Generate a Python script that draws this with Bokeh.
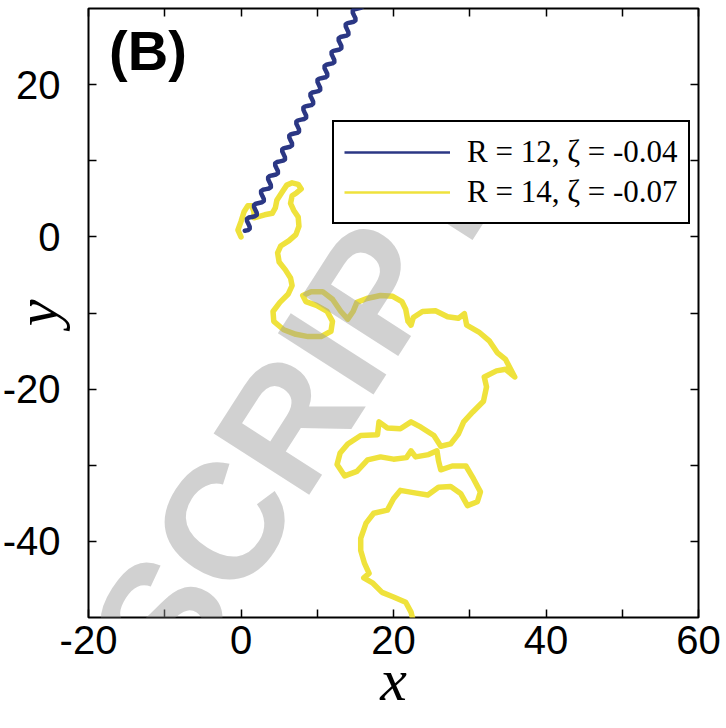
from bokeh.plotting import figure
from bokeh.models import Range1d, LinearAxis, FixedTicker, Label, Legend, LegendItem
from bokeh.embed import file_html
from bokeh.resources import INLINE

# ---------------- data ----------------
blue_x = [0.50, 0.91, 1.14, 1.14, 0.96, 0.79, 0.78, 1.02, 1.42, 1.83, 2.07, 2.06, 1.89, 1.71,
          1.71, 1.94, 2.35, 2.76, 2.99, 2.99, 2.81, 2.64, 2.63, 2.87, 3.27, 3.68, 3.92, 3.91,
          3.74, 3.56, 3.56, 3.79, 4.20, 4.60, 4.84, 4.84, 4.66, 4.49, 4.48, 4.72, 5.12, 5.53,
          5.77, 5.76, 5.59, 5.41, 5.41, 5.64, 6.05, 6.45, 6.69, 6.69, 6.51, 6.34, 6.33, 6.57,
          6.97, 7.38, 7.61, 7.61, 7.44, 7.26, 7.26, 7.49, 7.90, 8.30, 8.54, 8.54, 8.36, 8.19,
          8.18, 8.42, 8.82, 9.23, 9.46, 9.46, 9.29, 9.11, 9.11, 9.34, 9.75, 10.15, 10.39, 10.38,
          10.21, 10.04, 10.03, 10.27, 10.67, 11.08, 11.31, 11.31, 11.14, 10.96, 10.96, 11.19,
          11.60, 12.00, 12.24, 12.23, 12.06, 11.89, 11.88, 12.12, 12.52, 12.93, 13.16, 13.16,
          12.99, 12.81, 12.81, 13.04, 13.45, 13.85, 14.09, 14.08, 13.91, 13.74, 13.73, 13.97,
          14.37, 14.78, 15.01, 15.01, 14.83, 14.66, 14.66, 14.89, 15.30, 15.70, 15.94]
blue_y = [0.80, 0.89, 1.06, 1.34, 1.71, 2.08, 2.37, 2.54, 2.62, 2.71, 2.88, 3.17, 3.54, 3.91,
          4.19, 4.36, 4.45, 4.54, 4.71, 4.99, 5.36, 5.73, 6.02, 6.19, 6.27, 6.36, 6.53, 6.82,
          7.19, 7.56, 7.84, 8.01, 8.10, 8.19, 8.36, 8.64, 9.01, 9.38, 9.67, 9.84, 9.92, 10.01,
          10.18, 10.47, 10.84, 11.20, 11.49, 11.66, 11.75, 11.84, 12.01, 12.29, 12.66, 13.03,
          13.32, 13.49, 13.57, 13.66, 13.83, 14.12, 14.49, 14.85, 15.14, 15.31, 15.40, 15.49,
          15.66, 15.94, 16.31, 16.68, 16.97, 17.14, 17.22, 17.31, 17.48, 17.77, 18.14, 18.50,
          18.79, 18.96, 19.05, 19.14, 19.30, 19.59, 19.96, 20.33, 20.62, 20.79, 20.87, 20.96,
          21.13, 21.42, 21.79, 22.15, 22.44, 22.61, 22.70, 22.79, 22.95, 23.24, 23.61, 23.98,
          24.27, 24.43, 24.52, 24.61, 24.78, 25.07, 25.44, 25.80, 26.09, 26.26, 26.35, 26.44,
          26.60, 26.89, 27.26, 27.63, 27.92, 28.08, 28.17, 28.26, 28.43, 28.72, 29.08, 29.45,
          29.74, 29.91, 30.00, 30.09, 30.25]

yellow_x = [0.0, -0.4, 0.0, 0.4, 0.9, 1.4, 1.7, 1.7, 2.4, 3.1, 4.1, 4.5, 4.7, 5.4, 6.0, 6.7,
            7.5, 7.9, 7.3, 6.7, 6.5, 6.9, 7.5, 7.6, 7.2, 6.3, 5.2, 4.8, 5.0, 5.8, 6.5, 6.7,
            6.2, 5.1, 4.2, 4.3, 5.6, 7.2, 8.8, 10.5, 11.8, 12.0, 11.3, 9.9, 8.5, 8.1, 9.2, 10.7,
            12.0, 13.1, 14.0, 14.7, 15.2, 16.5, 18.3, 19.9, 21.1, 21.6, 21.9, 22.3, 22.6, 23.8,
            25.5, 27.1, 28.5, 29.3, 29.6, 31.2, 32.6, 33.6, 34.7, 35.9, 34.7, 33.5, 31.9, 32.2,
            31.8, 30.4, 29.2, 28.5, 27.5, 26.2, 25.3, 23.6, 22.3, 20.9, 19.2, 18.1, 17.9, 15.7,
            14.0, 13.0, 12.6, 13.6, 15.2, 16.6, 18.3, 20.0, 21.7, 22.3, 22.9, 24.6, 25.7, 25.9,
            26.2, 27.7, 29.5, 30.5, 31.4, 31.0, 29.7, 28.8, 27.5, 25.9, 24.5, 22.6, 20.9, 20.0,
            19.2, 17.4, 16.4, 15.7, 15.7, 16.2, 16.8, 16.1, 17.3, 18.5, 20.0, 21.6, 22.3, 22.5]
yellow_y = [0.0, 0.9, 2.0, 3.3, 4.1, 4.1, 3.3, 2.5, 2.7, 2.9, 3.1, 3.8, 4.8, 5.9, 6.8, 7.1,
            6.9, 6.3, 5.8, 5.4, 4.4, 3.5, 2.6, 1.4, 0.3, -0.5, -1.2, -2.1, -3.3, -4.3, -5.4, -6.4,
            -7.5, -8.6, -9.8, -11.1, -12.2, -12.8, -13.1, -13.1, -12.4, -11.1, -9.8, -9.0, -8.5,
            -7.7, -7.2, -7.2, -8.2, -9.8, -10.8, -9.8, -8.6, -8.1, -7.7, -7.8, -8.5, -9.5, -11.1,
            -11.6, -10.6, -9.8, -9.7, -10.5, -10.7, -10.1, -11.6, -12.5, -13.7, -15.2, -16.1,
            -18.4, -17.4, -17.6, -18.4, -19.7, -21.6, -23.0, -24.3, -25.9, -27.2, -27.5, -26.1,
            -25.0, -24.3, -25.2, -25.1, -24.3, -26.0, -26.1, -27.2, -28.4, -29.9, -31.4, -30.8,
            -29.3, -28.9, -29.2, -29.0, -28.1, -28.9, -28.6, -28.1, -29.4, -30.6, -30.1, -30.1,
            -31.8, -33.5, -34.8, -35.3, -33.7, -32.8, -32.9, -33.9, -33.6, -33.3, -34.4, -35.9,
            -36.3, -37.6, -39.6, -41.2, -42.9, -44.2, -44.8, -45.5, -46.7, -47.3, -48.0, -49.3,
            -50.1]

series_labels = ["R = 12, ζ = -0.04", "R = 14, ζ = -0.07"]
x_ticks = [-20, 0, 20, 40, 60]
x_minor = [-10, 10, 30, 50]
y_ticks = [-40, -20, 0, 20]
y_minor = [-30, -10, 10]

BLUE = "#2b3784"
YELLOW = "#efe23c"
NAN = float("nan")

# ---------------- figure ----------------
p = figure(width=726, height=728, output_backend="svg", toolbar_location=None,
           x_range=Range1d(-20, 60), y_range=Range1d(-50, 30),
           min_border_left=87, min_border_right=28, min_border_top=8, min_border_bottom=111)
p.background_fill_color = "white"
p.border_fill_color = "white"
p.outline_line_color = "black"
p.outline_line_width = 2
p.grid.visible = False


def style_axis(ax, ticks, minor, labels, standoff=0):
    ax.ticker = FixedTicker(ticks=ticks, minor_ticks=minor)
    ax.axis_line_color = None
    ax.major_tick_in = 8
    ax.major_tick_out = 0
    ax.minor_tick_in = 8
    ax.minor_tick_out = 0
    ax.major_tick_line_color = "black"
    ax.minor_tick_line_color = "black"
    ax.major_tick_line_width = 1.5
    ax.minor_tick_line_width = 1.5
    if labels:
        ax.major_label_overrides = {t: str(t) for t in ticks}
        ax.major_label_text_font = "Liberation Sans"
        ax.major_label_text_font_size = "40px"
        ax.major_label_text_color = "black"
        ax.major_label_standoff = standoff
    else:
        ax.major_label_text_font_size = "0px"
        ax.major_label_standoff = 0


xa = p.xaxis[0]
ya = p.yaxis[0]
style_axis(xa, x_ticks, x_minor, True, 8)
style_axis(ya, y_ticks, y_minor, True, 28)
xa.axis_label = "x"
xa.axis_label_text_font = "Liberation Serif"
xa.axis_label_text_font_style = "italic"
xa.axis_label_text_font_size = "60px"
xa.axis_label_text_color = "black"
xa.axis_label_standoff = -10
ya.axis_label = "y"
ya.axis_label_text_font = "Liberation Serif"
ya.axis_label_text_font_style = "italic"
ya.axis_label_text_font_size = "60px"
ya.axis_label_text_color = "black"
ya.axis_label_standoff = -70

top_ax = LinearAxis()
right_ax = LinearAxis()
style_axis(top_ax, x_ticks, x_minor, False)
style_axis(right_ax, y_ticks, y_minor, False)
p.add_layout(top_ax, "above")
p.add_layout(right_ax, "right")

# ---------------- data lines ----------------
p.line(yellow_x, yellow_y, line_color=YELLOW, line_width=5.5, line_join="round", line_cap="round")
p.line(blue_x, blue_y, line_color=BLUE, line_width=4.5, line_join="round", line_cap="round")

# legend swatches (thin lines as in the original legend)
leg_b = p.line(x=[NAN], y=[NAN], line_color=BLUE, line_width=2.5)
leg_y = p.line(x=[NAN], y=[NAN], line_color=YELLOW, line_width=2.5)
legend = Legend(items=[LegendItem(label=series_labels[0], renderers=[leg_b]),
                       LegendItem(label=series_labels[1], renderers=[leg_y])],
                location=(244, 393), orientation="vertical",
                label_text_font="Liberation Serif", label_text_font_size="31px",
                label_text_color="black",
                glyph_width=106, glyph_height=40, label_height=40, label_standoff=17,
                padding=10, spacing=0, margin=0,
                border_line_color="black", border_line_width=2, border_line_alpha=1,
                background_fill_color="white", background_fill_alpha=1)
p.add_layout(legend, "center")

# ---------------- texts ----------------
p.add_layout(Label(x=-17.3, y=20.3, text="(B)", text_font="Liberation Sans",
                   text_font_style="bold", text_font_size="56px", text_color="black"))

# watermark
p.add_layout(Label(x=28.5, y=10.5, text="ACCEPTED MANUSCRIPT", text_font="Liberation Sans",
                   text_font_style="bold", text_font_size="165px", text_color="#9a9a9a",
                   text_alpha=0.45, text_align="right", text_baseline="alphabetic",
                   angle=1.0, level="overlay"))

open("out.html", "w").write(file_html(p, INLINE))
